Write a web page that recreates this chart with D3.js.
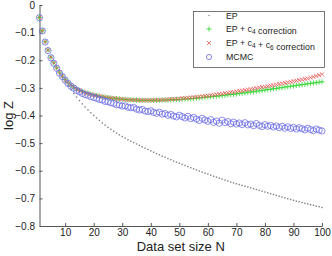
<!DOCTYPE html>
<html>
<head>
<meta charset="utf-8">
<script type="text/javascript" src="https://d3js.org/d3.v7.min.js" charset="utf-8"></script>
<style>
    body { margin: 0; background: #fff; }
    text { font-family: "Liberation Sans", Arial, sans-serif; }
</style>
</head>
<body>
<script>
    const WIDTH = 332;
    const HEIGHT = 256;

    const X_LEFT = 39.5;
    const X_RIGHT = 322;
    const Y_TOP = 5;
    const Y_BOTTOM = 226;

    const AXIS_COLOR = '#555';
    const TEXT_COLOR = '#222';
    const EP_COLOR = '#808080';
    const C4_COLOR = '#2ad62a';
    const C6_COLOR = '#e85858';
    const MCMC_COLOR = '#6a6ae6';

    const X_TICKS = [10, 20, 30, 40, 50, 60, 70, 80, 90, 100];
    const Y_TICKS = [0, -0.1, -0.2, -0.3, -0.4, -0.5, -0.6, -0.7, -0.8];

    const LEGEND_LABELS = ['EP', 'EP + c4 correction', 'EP + c4 + c6 correction', 'MCMC'];

    // data set size N = 1..100
    const N_VALUES = [
        1, 2, 3, 4, 5, 6, 7, 8, 9, 10, 11, 12, 13, 14, 15, 16, 17, 18, 19, 20,
        21, 22, 23, 24, 25, 26, 27, 28, 29, 30, 31, 32, 33, 34, 35, 36, 37, 38, 39, 40,
        41, 42, 43, 44, 45, 46, 47, 48, 49, 50, 51, 52, 53, 54, 55, 56, 57, 58, 59, 60,
        61, 62, 63, 64, 65, 66, 67, 68, 69, 70, 71, 72, 73, 74, 75, 76, 77, 78, 79, 80,
        81, 82, 83, 84, 85, 86, 87, 88, 89, 90, 91, 92, 93, 94, 95, 96, 97, 98, 99, 100];

    const EP = [
        -0.045, -0.093, -0.133, -0.163, -0.189, -0.210, -0.229, -0.246, -0.262, -0.277,
        -0.292, -0.306, -0.320, -0.333, -0.346, -0.358, -0.369, -0.380, -0.390, -0.400,
        -0.409, -0.418, -0.427, -0.435, -0.443, -0.450, -0.457, -0.464, -0.470, -0.476,
        -0.482, -0.488, -0.493, -0.498, -0.503, -0.508, -0.513, -0.518, -0.523, -0.528,
        -0.533, -0.538, -0.542, -0.547, -0.551, -0.556, -0.560, -0.565, -0.569, -0.573,
        -0.577, -0.581, -0.585, -0.589, -0.593, -0.597, -0.601, -0.605, -0.609, -0.612,
        -0.616, -0.620, -0.623, -0.627, -0.630, -0.634, -0.637, -0.641, -0.644, -0.647,
        -0.650, -0.653, -0.656, -0.659, -0.662, -0.665, -0.668, -0.671, -0.674, -0.677,
        -0.680, -0.683, -0.686, -0.689, -0.692, -0.695, -0.698, -0.701, -0.704, -0.707,
        -0.710, -0.712, -0.715, -0.718, -0.720, -0.723, -0.725, -0.728, -0.730, -0.733];

    const EP_C4 = [
        -0.045, -0.093, -0.133, -0.163, -0.189, -0.209, -0.227, -0.243, -0.257, -0.270,
        -0.281, -0.290, -0.298, -0.304, -0.309, -0.313, -0.317, -0.320, -0.323, -0.326,
        -0.328, -0.330, -0.332, -0.334, -0.335, -0.337, -0.338, -0.339, -0.340, -0.341,
        -0.342, -0.343, -0.343, -0.344, -0.344, -0.345, -0.345, -0.345, -0.345, -0.345,
        -0.345, -0.345, -0.345, -0.344, -0.344, -0.344, -0.343, -0.343, -0.342, -0.342,
        -0.341, -0.340, -0.340, -0.339, -0.338, -0.337, -0.336, -0.335, -0.334, -0.333,
        -0.332, -0.331, -0.330, -0.329, -0.328, -0.327, -0.325, -0.324, -0.323, -0.322,
        -0.320, -0.319, -0.318, -0.316, -0.315, -0.314, -0.312, -0.311, -0.309, -0.308,
        -0.306, -0.305, -0.303, -0.302, -0.300, -0.299, -0.297, -0.296, -0.294, -0.293,
        -0.291, -0.290, -0.288, -0.287, -0.285, -0.284, -0.282, -0.281, -0.279, -0.278];

    const EP_C4_C6 = [
        -0.045, -0.093, -0.133, -0.163, -0.189, -0.209, -0.227, -0.243, -0.257, -0.270,
        -0.281, -0.290, -0.298, -0.304, -0.309, -0.313, -0.317, -0.320, -0.323, -0.326,
        -0.328, -0.330, -0.332, -0.334, -0.335, -0.337, -0.338, -0.339, -0.340, -0.341,
        -0.342, -0.343, -0.343, -0.344, -0.344, -0.345, -0.345, -0.345, -0.345, -0.345,
        -0.345, -0.344, -0.344, -0.343, -0.343, -0.342, -0.341, -0.341, -0.340, -0.339,
        -0.338, -0.337, -0.336, -0.335, -0.334, -0.333, -0.332, -0.331, -0.329, -0.328,
        -0.327, -0.325, -0.324, -0.322, -0.321, -0.319, -0.318, -0.316, -0.315, -0.313,
        -0.311, -0.310, -0.308, -0.306, -0.305, -0.303, -0.301, -0.299, -0.297, -0.296,
        -0.294, -0.292, -0.290, -0.288, -0.286, -0.284, -0.282, -0.280, -0.278, -0.276,
        -0.274, -0.272, -0.270, -0.268, -0.266, -0.263, -0.260, -0.257, -0.254, -0.251];

    const MCMC = [
        -0.046, -0.094, -0.134, -0.165, -0.191, -0.211, -0.229, -0.246, -0.259, -0.272,
        -0.284, -0.294, -0.301, -0.309, -0.314, -0.320, -0.325, -0.327, -0.332, -0.335,
        -0.338, -0.342, -0.344, -0.349, -0.350, -0.354, -0.356, -0.361, -0.362, -0.366,
        -0.365, -0.370, -0.372, -0.371, -0.377, -0.380, -0.378, -0.384, -0.386, -0.383,
        -0.389, -0.392, -0.388, -0.395, -0.393, -0.399, -0.396, -0.402, -0.405, -0.399,
        -0.404, -0.409, -0.403, -0.411, -0.407, -0.413, -0.418, -0.410, -0.416, -0.421,
        -0.415, -0.425, -0.420, -0.428, -0.417, -0.426, -0.422, -0.430, -0.424, -0.431,
        -0.427, -0.433, -0.426, -0.434, -0.431, -0.437, -0.429, -0.436, -0.440, -0.433,
        -0.439, -0.436, -0.442, -0.438, -0.444, -0.439, -0.446, -0.441, -0.447, -0.443,
        -0.449, -0.444, -0.448, -0.452, -0.446, -0.451, -0.455, -0.449, -0.453, -0.456];

    const PLUS_PATH = 'M-2.6,0H2.6M0,-2.6V2.6';
    const CROSS_PATH = 'M-2,-2L2,2M-2,2L2,-2';

    let svg = d3.select('body')
        .append('svg')
        .attr('width', WIDTH)
        .attr('height', HEIGHT);

    let xScale = d3.scaleLinear()
        .domain([1, 100])
        .range([X_LEFT, X_RIGHT]);
    let yScale = d3.scaleLinear()
        .domain([-0.8, 0])
        .range([Y_BOTTOM, Y_TOP]);

    // axes (matlab style, ticks pointing inward)
    let xAxis = svg.append('g')
        .attr('transform', 'translate(0,' + Y_BOTTOM + ')')
        .call(d3.axisBottom(xScale)
            .tickValues(X_TICKS)
            .tickSizeInner(-3)
            .tickSizeOuter(0)
            .tickPadding(2.5));
    let yAxis = svg.append('g')
        .attr('transform', 'translate(' + X_LEFT + ',0)')
        .call(d3.axisLeft(yScale)
            .tickValues(Y_TICKS)
            .tickFormat(function(d){ return d === 0 ? '0' : d3.format('.1f')(d); })
            .tickSizeInner(-3)
            .tickSizeOuter(0)
            .tickPadding(4.5));

    svg.selectAll('.domain').attr('stroke', AXIS_COLOR);
    svg.selectAll('.tick line').attr('stroke', AXIS_COLOR);
    svg.selectAll('.tick text')
        .attr('fill', TEXT_COLOR)
        .style('font-family', '"Liberation Sans", Arial, sans-serif')
        .style('font-size', '10px');

    // EP dots
    svg.append('g').selectAll('rect')
        .data(N_VALUES)
        .enter()
        .append('rect')
        .attr('x', function(d){ return xScale(d) - 0.7; })
        .attr('y', function(d, i){ return yScale(EP[i]) - 0.7; })
        .attr('width', 1.4)
        .attr('height', 1.4)
        .attr('fill', EP_COLOR);

    // EP + c4 (plus)
    svg.append('g').selectAll('path')
        .data(N_VALUES)
        .enter()
        .append('path')
        .attr('d', PLUS_PATH)
        .attr('transform', function(d, i){
            return 'translate(' + xScale(d) + ',' + yScale(EP_C4[i]) + ')';
        })
        .attr('fill', 'none')
        .attr('stroke', C4_COLOR)
        .attr('stroke-width', 0.8);

    // EP + c4 + c6 (cross)
    svg.append('g').selectAll('path')
        .data(N_VALUES)
        .enter()
        .append('path')
        .attr('d', CROSS_PATH)
        .attr('transform', function(d, i){
            return 'translate(' + xScale(d) + ',' + yScale(EP_C4_C6[i]) + ')';
        })
        .attr('fill', 'none')
        .attr('stroke', C6_COLOR)
        .attr('stroke-width', 0.8);

    // MCMC (circles)
    svg.append('g').selectAll('circle')
        .data(N_VALUES)
        .enter()
        .append('circle')
        .attr('cx', function(d){ return xScale(d); })
        .attr('cy', function(d, i){ return yScale(MCMC[i]); })
        .attr('r', 3.1)
        .attr('fill', 'none')
        .attr('stroke', MCMC_COLOR)
        .attr('stroke-width', 0.75);

    // axis labels
    svg.append('text')
        .attr('x', (X_LEFT + X_RIGHT) / 2)
        .attr('y', 251)
        .attr('text-anchor', 'middle')
        .attr('fill', TEXT_COLOR)
        .style('font-size', '13px')
        .text('Data set size N');
    svg.append('text')
        .attr('transform', 'translate(13,' + ((Y_TOP + Y_BOTTOM) / 2) + ') rotate(-90)')
        .attr('text-anchor', 'middle')
        .attr('fill', TEXT_COLOR)
        .style('font-size', '13px')
        .text('log Z');

    // legend
    let legend = svg.append('g');
    legend.append('rect')
        .attr('x', 193.5)
        .attr('y', 11.5)
        .attr('width', 131)
        .attr('height', 56)
        .attr('fill', '#fff')
        .attr('stroke', AXIS_COLOR)
        .attr('stroke-width', 0.8);

    const LEGEND_Y = [15.5, 29, 43, 57];
    const LEGEND_MARK_X = 209;
    const LEGEND_TEXT_X = 226;

    legend.append('rect')
        .attr('x', LEGEND_MARK_X - 0.6).attr('y', LEGEND_Y[0] - 0.6)
        .attr('width', 1.2).attr('height', 1.2)
        .attr('fill', EP_COLOR);
    legend.append('path')
        .attr('d', PLUS_PATH)
        .attr('transform', 'translate(' + LEGEND_MARK_X + ',' + LEGEND_Y[1] + ')')
        .attr('stroke', C4_COLOR).attr('stroke-width', 0.8);
    legend.append('path')
        .attr('d', CROSS_PATH)
        .attr('transform', 'translate(' + LEGEND_MARK_X + ',' + LEGEND_Y[2] + ')')
        .attr('stroke', C6_COLOR).attr('stroke-width', 0.8);
    legend.append('circle')
        .attr('cx', LEGEND_MARK_X).attr('cy', LEGEND_Y[3]).attr('r', 2.6)
        .attr('fill', 'none')
        .attr('stroke', MCMC_COLOR).attr('stroke-width', 0.8);

    // legend text, with subscripts for the c terms
    LEGEND_LABELS.forEach(function(label, i){
        let t = legend.append('text')
            .attr('x', LEGEND_TEXT_X)
            .attr('y', LEGEND_Y[i] + 3)
            .attr('fill', TEXT_COLOR)
            .style('font-size', '8.8px');
        let parts = label.split(/(c[0-9])/);
        parts.forEach(function(p){
            if (/^c[0-9]$/.test(p)) {
                t.append('tspan').text('c');
                t.append('tspan').attr('dy', 2).style('font-size', '6.5px').text(p[1]);
                t.append('tspan').attr('dy', -2).text('');
            } else {
                t.append('tspan').text(p);
            }
        });
    });
</script>
</body>
</html>
